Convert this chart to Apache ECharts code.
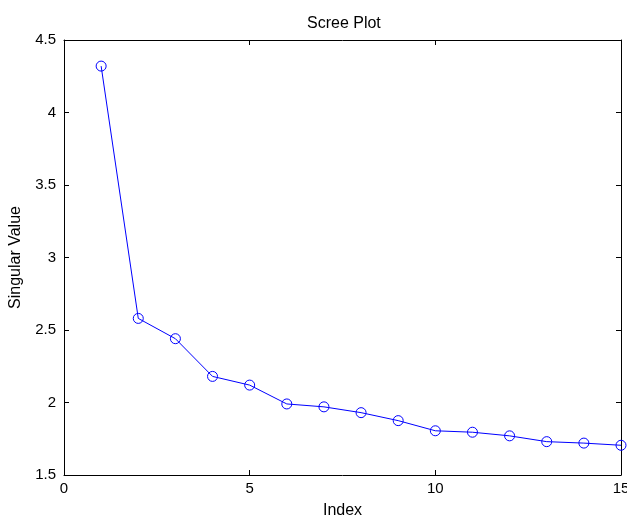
<!DOCTYPE html>
<html>
<head>
	<meta charset="utf-8">
	<script src="https://cdn.jsdelivr.net/npm/echarts@6/dist/echarts.min.js"></script>
</head>
<body style="margin:0;">
	<div id="main" style="width: 627px; height: 518px;"></div>
<script type="text/javascript">
        // data
        var indexes = [1, 2, 3, 4, 5, 6, 7, 8, 9, 10, 11, 12, 13, 14, 15];
        var singularValues = [4.32, 2.58, 2.44, 2.18, 2.12, 1.99, 1.97, 1.93, 1.875, 1.805, 1.795, 1.77, 1.73, 1.72, 1.705];
        var xTicks = [0, 5, 10, 15];
        var yTicks = [1.5, 2, 2.5, 3, 3.5, 4, 4.5];

        var myChart = echarts.init(document.getElementById('main'));
        var font = 'Liberation Sans';

        var points = [];
        for (var i = 0; i < indexes.length; i++) {
            points.push([indexes[i], singularValues[i]]);
        }

        var boxAxis = {
            axisLine: { show: true, onZero: false, lineStyle: { color: '#000', width: 1 } },
            axisTick: { show: true, inside: true, length: 5, lineStyle: { color: '#000' } },
            splitLine: { show: false }
        };

        option = {
            backgroundColor: '#fff',
            animation: false,
            title: {
                text: 'Scree Plot',
                left: 302,
                top: 11,
                textStyle: { fontFamily: font, fontSize: 16, fontWeight: 'normal', color: '#000' }
            },
            grid: { left: 64, right: 6, top: 40, bottom: 43, outerBoundsMode: 'none', containLabel: false },
            xAxis: [
                Object.assign({}, boxAxis, {
                    type: 'value', min: xTicks[0], max: xTicks[xTicks.length - 1], interval: 5,
                    position: 'bottom',
                    name: 'Index', nameLocation: 'middle', nameGap: 28,
                    nameTextStyle: { fontFamily: font, fontSize: 16, color: '#000' },
                    axisLabel: { fontFamily: font, fontSize: 15, color: '#000', margin: 6, hideOverlap: false }
                }),
                Object.assign({}, boxAxis, {
                    type: 'value', min: xTicks[0], max: xTicks[xTicks.length - 1], interval: 5,
                    position: 'top',
                    axisLabel: { show: false }
                })
            ],
            yAxis: [
                Object.assign({}, boxAxis, {
                    type: 'value', min: yTicks[0], max: yTicks[yTicks.length - 1], interval: 0.5,
                    position: 'left',
                    name: 'Singular Value', nameLocation: 'middle', nameGap: 40,
                    nameTextStyle: { fontFamily: font, fontSize: 16, color: '#000' },
                    axisLabel: { fontFamily: font, fontSize: 15, color: '#000', margin: 8 }
                }),
                Object.assign({}, boxAxis, {
                    type: 'value', min: yTicks[0], max: yTicks[yTicks.length - 1], interval: 0.5,
                    position: 'right',
                    axisLabel: { show: false }
                })
            ],
            series: [
                {
                    type: 'line',
                    data: points,
                    symbol: 'circle',
                    symbolSize: 10,
                    z: 3,
                    lineStyle: { color: '#0000ff', width: 1 },
                    itemStyle: { color: 'rgba(0,0,0,0)', borderColor: '#0000ff', borderWidth: 1 }
                }
            ]
        };

        myChart.setOption(option);
    </script>
</body>
</html>
